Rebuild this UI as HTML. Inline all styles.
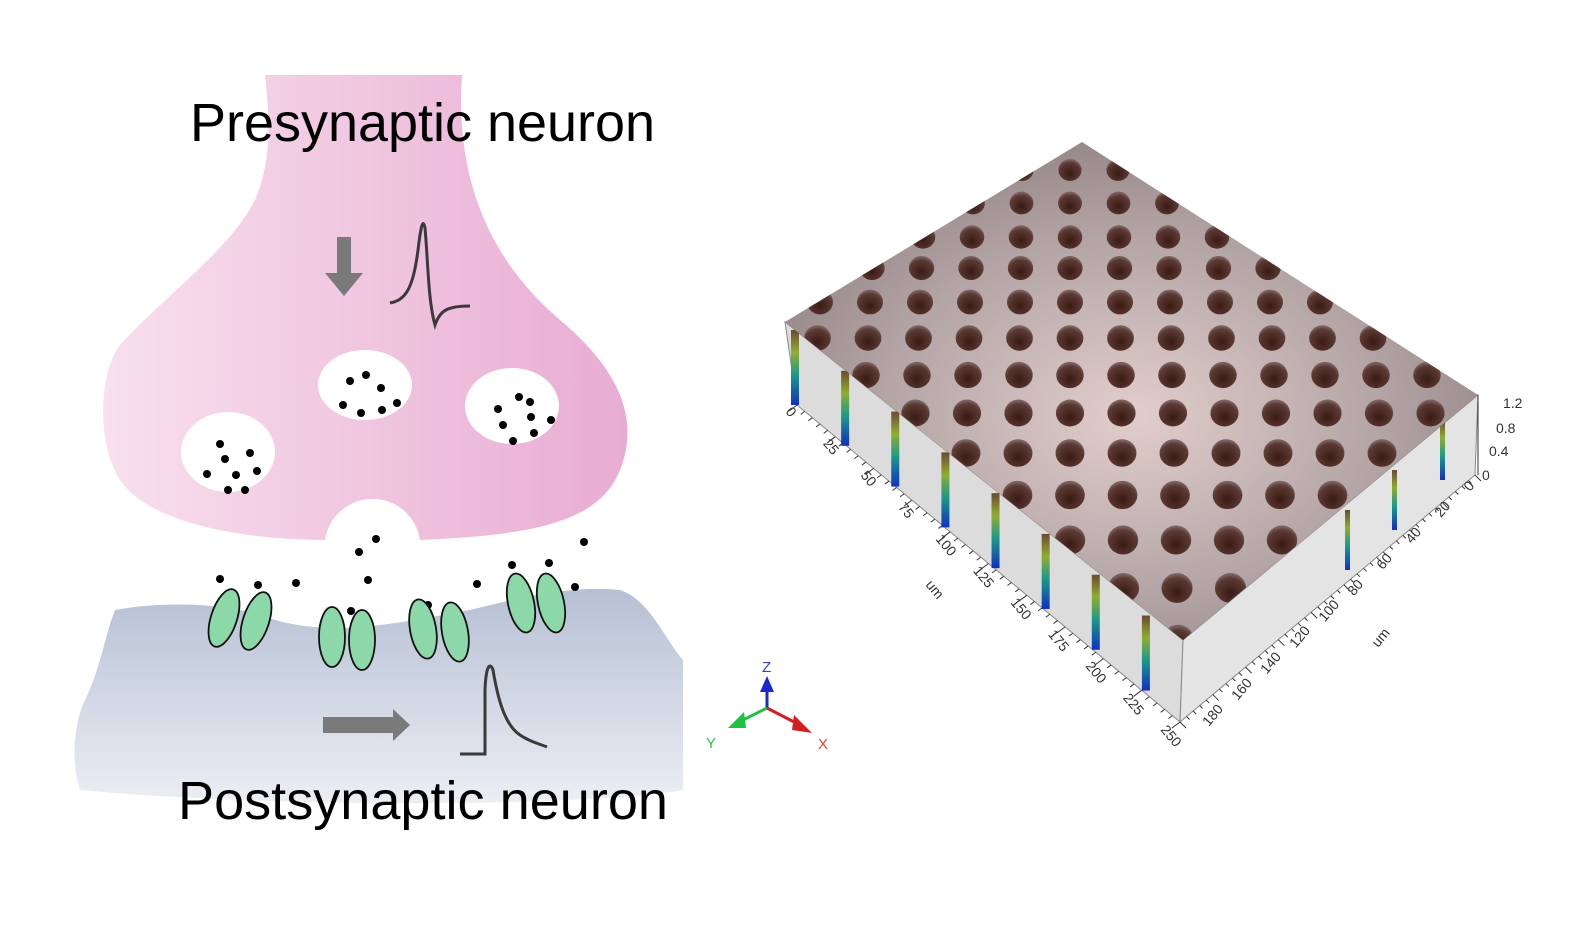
<!DOCTYPE html>
<html><head><meta charset="utf-8"><style>
html,body{margin:0;padding:0;background:#fff;width:1595px;height:925px;overflow:hidden}
svg{display:block}
text{font-family:"Liberation Sans",sans-serif}
</style></head><body>
<svg id="s" width="1595" height="925" viewBox="0 0 1595 925" xmlns="http://www.w3.org/2000/svg">
<defs>
<linearGradient id="pk" x1="0" y1="0" x2="1" y2="0"><stop offset="0" stop-color="#f8e0ee"/><stop offset="1" stop-color="#e8acd2"/></linearGradient>
<linearGradient id="bl" x1="0" y1="0" x2="0" y2="1"><stop offset="0" stop-color="#b6c0d4"/><stop offset="1" stop-color="#eceef4"/></linearGradient>
<radialGradient id="top" cx="0.5" cy="0.55" r="0.6"><stop offset="0" stop-color="#e2cecc"/><stop offset="0.6" stop-color="#b3a5a5"/><stop offset="1" stop-color="#908282"/></radialGradient>
<radialGradient id="hole" cx="0.5" cy="0.65" r="0.6"><stop offset="0" stop-color="#3a1a14"/><stop offset="0.8" stop-color="#5a3a32"/><stop offset="1" stop-color="#7a6060"/></radialGradient>
<linearGradient id="str" x1="0" y1="0" x2="0" y2="1"><stop offset="0" stop-color="#6b4a30"/><stop offset="0.3" stop-color="#8fae30"/><stop offset="0.6" stop-color="#1a9a8a"/><stop offset="1" stop-color="#1030c0"/></linearGradient>
<clipPath id="tc"><polygon points="1082,142 785,322 1183,640 1478,395"/></clipPath>
</defs>
<path d="M265,75 L462,75 C455,180 490,260 560,320 C620,370 640,420 620,470 C600,520 540,535 420,540 A48,48 0 0 0 325,540 C250,540 150,525 120,480 C95,440 100,370 120,345 C160,300 230,250 255,200 C272,160 270,120 265,75 Z" fill="url(#pk)"/>
<path d="M115,610 C170,600 230,605 260,615 C300,630 340,630 380,625 C420,620 440,615 470,610 C520,598 570,585 620,590 C650,600 665,640 683,660 L683,790 C600,805 300,810 80,790 C70,760 75,720 85,700 C100,670 105,635 115,610 Z" fill="url(#bl)"/>
<g fill="#fff"><ellipse cx="365" cy="385" rx="47" ry="35"/><ellipse cx="512" cy="406" rx="47" ry="38"/><ellipse cx="228" cy="452" rx="47" ry="40"/></g>
<g fill="#000">
<circle cx="350" cy="381" r="4"/><circle cx="366" cy="375" r="4"/><circle cx="381" cy="388" r="4"/><circle cx="343" cy="405" r="4"/><circle cx="361" cy="413" r="4"/><circle cx="382" cy="410" r="4"/><circle cx="397" cy="403" r="4"/>
<circle cx="519" cy="397" r="4"/><circle cx="530" cy="402" r="4"/><circle cx="498" cy="409" r="4"/><circle cx="531" cy="417" r="4"/><circle cx="551" cy="420" r="4"/><circle cx="503" cy="425" r="4"/><circle cx="534" cy="433" r="4"/><circle cx="513" cy="441" r="4"/>
<circle cx="220" cy="444" r="4"/><circle cx="250" cy="453" r="4"/><circle cx="225" cy="459" r="4"/><circle cx="207" cy="474" r="4"/><circle cx="236" cy="475" r="4"/><circle cx="257" cy="471" r="4"/><circle cx="228" cy="490" r="4"/><circle cx="245" cy="490" r="4"/>
<circle cx="376" cy="539" r="4"/><circle cx="359" cy="552" r="4"/><circle cx="220" cy="579" r="4"/><circle cx="258" cy="585" r="4"/><circle cx="296" cy="583" r="4"/><circle cx="368" cy="580" r="4"/><circle cx="477" cy="584" r="4"/><circle cx="512" cy="565" r="4"/><circle cx="549" cy="563" r="4"/><circle cx="584" cy="542" r="4"/><circle cx="575" cy="587" r="4"/><circle cx="268" cy="605" r="4"/><circle cx="351" cy="611" r="4"/><circle cx="428" cy="605" r="4"/>
</g>
<g fill="#8dd8a8" stroke="#111" stroke-width="1.8">
<ellipse cx="224" cy="618" rx="13" ry="30" transform="rotate(18 224 618)"/><ellipse cx="256" cy="621" rx="13" ry="30" transform="rotate(18 256 621)"/>
<ellipse cx="332" cy="637" rx="13" ry="30"/><ellipse cx="362" cy="640" rx="13" ry="30"/>
<ellipse cx="423" cy="629" rx="13" ry="30" transform="rotate(-10 423 629)"/><ellipse cx="455" cy="632" rx="13" ry="30" transform="rotate(-10 455 632)"/>
<ellipse cx="521" cy="603" rx="13" ry="30" transform="rotate(-12 521 603)"/><ellipse cx="551" cy="603" rx="13" ry="30" transform="rotate(-12 551 603)"/>
</g>
<path d="M337,237 H351 V273 H363 L344,296 L325,273 H337 Z" fill="#7a7a7a"/>
<path d="M390,303 C405,300 413,290 418,250 C421,225 423,218 425,228 C428,260 428,300 435,325 C440,310 448,306 470,306" fill="none" stroke="#3a3a3a" stroke-width="3"/>
<path d="M323,717 H393 V709 L410,725 L393,741 V733 H323 Z" fill="#7a7a7a"/>
<path d="M460,754 H485 V690 C486,665 490,662 493,670 C498,700 505,725 520,735 C530,742 540,744 547,747" fill="none" stroke="#3a3a3a" stroke-width="3"/>
<text x="190" y="141" font-size="54" textLength="465" lengthAdjust="spacingAndGlyphs">Presynaptic neuron</text>
<text x="178" y="819" font-size="54" textLength="490" lengthAdjust="spacingAndGlyphs">Postsynaptic neuron</text>
<line x1="767" y1="708" x2="767" y2="680" stroke="#1a2ad0" stroke-width="3"/><polygon points="760,692 774,692 767,676" fill="#1a2ad0"/>
<line x1="767" y1="708" x2="735" y2="724" stroke="#20c040" stroke-width="3"/><polygon points="728,728 744,712 746,728" fill="#20c040"/>
<line x1="767" y1="708" x2="800" y2="725" stroke="#d02020" stroke-width="3"/><polygon points="812,733 794,715 792,730" fill="#d02020"/>
<text x="762" y="672" font-size="15" fill="#3040d0">Z</text><text x="706" y="748" font-size="15" fill="#30c050">Y</text><text x="818" y="749" font-size="15" fill="#e04040">X</text>
<polygon points="785,322 1183,640 1180,722 797,405" fill="#dcdcdc" stroke="#888" stroke-width="1"/>
<polygon points="1183,640 1478,395 1475,475 1180,722" fill="#e4e4e4" stroke="#888" stroke-width="1"/>
<g id="streaks"></g>
<polygon points="1082,142 785,322 1183,640 1478,395" fill="url(#top)"/>
<g id="holes" clip-path="url(#tc)"></g>
<g id="ticks" stroke="#333" stroke-width="1"></g>
<g font-size="14" fill="#333" id="labs"></g>
<text x="1503" y="408" font-size="14" fill="#333">1.2</text><text x="1496" y="433" font-size="14" fill="#333">0.8</text><text x="1489" y="456" font-size="14" fill="#333">0.4</text><text x="1482" y="480" font-size="14" fill="#333">0</text>
<line x1="1478" y1="395" x2="1478" y2="475" stroke="#333"/>
</svg>
<script>
var NS="http://www.w3.org/2000/svg";
function el(p,t,a){var e=document.createElementNS(NS,t);for(var k in a)e.setAttribute(k,a[k]);p.appendChild(e);return e;}
var H=document.getElementById('holes');
var rows=[170,203,237,268,302,338,375,413,453,495,540,588,640];
rows.forEach(function(y,i){var sp=48+i*0.5;var r=11+i*0.35;
 for(var c=-8;c<=8;c++){var x=1070+c*sp;el(H,'ellipse',{cx:x,cy:y,rx:r*1.05,ry:r,fill:'url(#hole)'});}});
var S=document.getElementById('streaks');
for(var k=0;k<8;k++){var t=k/7.6;var x=787+t*(1168-787),y=330+t*(640-330);
 el(S,'rect',{x:x+4,y:y,width:8,height:75,fill:'url(#str)'});}
var R=[[1440,420],[1392,470],[1345,510]];
R.forEach(function(p){el(S,'rect',{x:p[0],y:p[1],width:5,height:60,fill:'url(#str)'});});
var T=document.getElementById('ticks'),L=document.getElementById('labs');
var xl=['0','25','50','75','100','125','150','175','200','225','250'];
for(var i=0;i<=50;i++){var t=i/50;var x=797+t*(1180-797),y=405+t*(722-405);el(T,'line',{x1:x,y1:y,x2:x-(i%5?4:8),y2:y+(i%5?3:6)});}
xl.forEach(function(s,i){var t=i/10;var x=785+t*(1160-785),y=412+t*(730-412);var g=el(L,'text',{x:x,y:y,transform:'rotate(50 '+x+' '+y+')'});g.textContent=s;});
var yl=['0','20','40','60','80','100','120','140','160','180'];
for(var i=0;i<=45;i++){var t=i/45;var x=1475+t*(1180-1475),y=475+t*(722-475);el(T,'line',{x1:x,y1:y,x2:x+(i%5?3:6),y2:y+(i%5?3:6)});}
yl.forEach(function(s,i){var t=i/9.3;var x=1470+t*(1200-1470),y=492+t*(735-492);var g=el(L,'text',{x:x,y:y,transform:'rotate(-50 '+x+' '+y+')'});g.textContent=s;});
var u=el(L,'text',{x:925,y:585,transform:'rotate(50 925 585)'});u.textContent='um';
var u2=el(L,'text',{x:1378,y:648,transform:'rotate(-50 1378 648)'});u2.textContent='um';
</script>
</body></html>
